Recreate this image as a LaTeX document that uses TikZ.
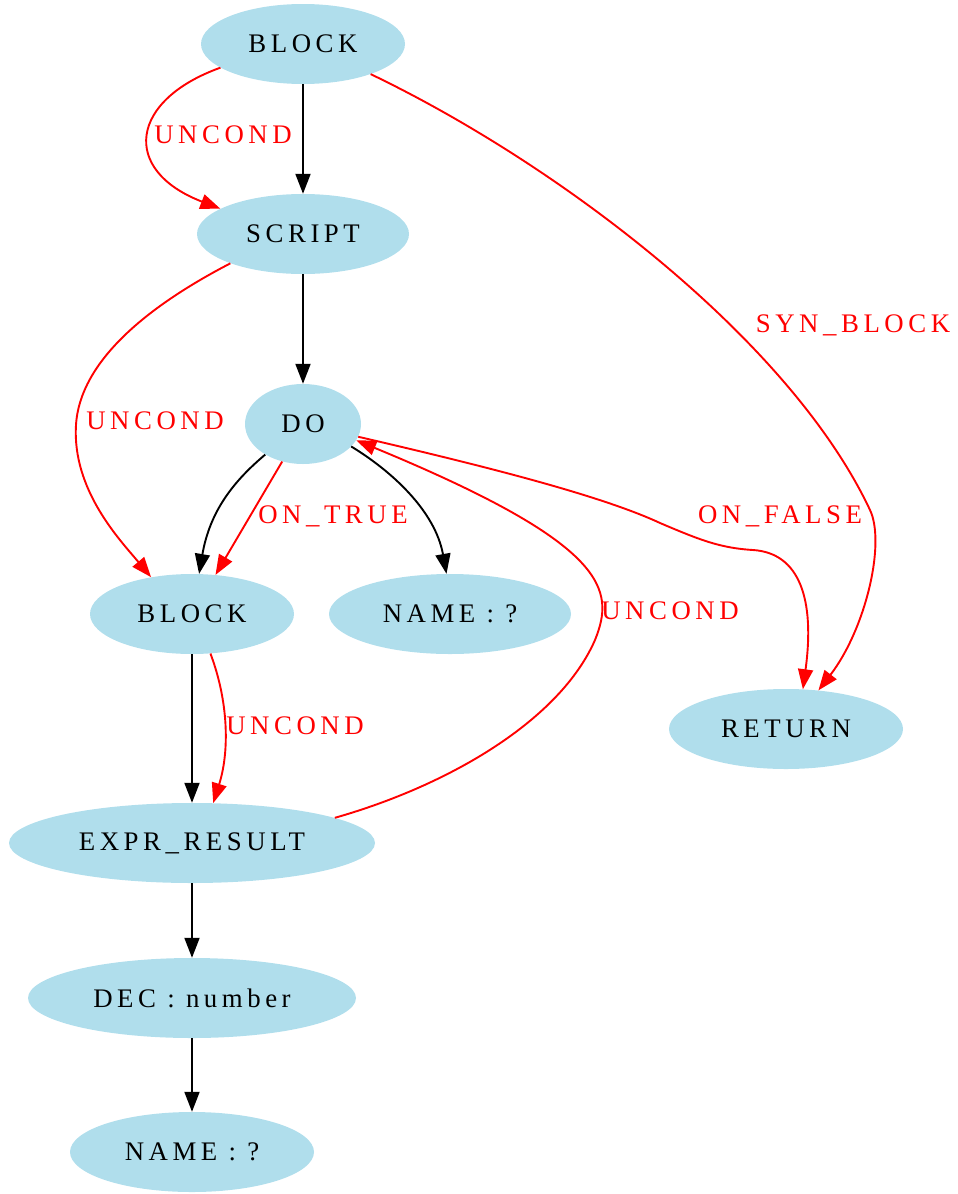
\documentclass[tikz,border=0pt]{standalone}
\usepackage{fontspec}
\setmainfont{Liberation Serif}[LetterSpace=17]
\usetikzlibrary{arrows.meta,shapes.geometric}
\definecolor{nodefill}{HTML}{B0DEEC}
\begin{document}
\begin{tikzpicture}[x=1pt,y=-1pt,
  gnode/.style={ellipse,fill=nodefill,inner sep=0pt,font=\fontsize{26.8}{30}\selectfont},
  blk/.style={draw=black,line width=1.9pt,-{Triangle[length=20pt,width=15pt]}},
  red/.style={draw=red,line width=1.9pt,-{Triangle[length=20pt,width=15pt]}},
  elab/.style={text=red,font=\fontsize{26.8}{30}\selectfont,inner sep=0pt}]
\useasboundingbox (0,0) rectangle (958,1194);
% nodes
\node[gnode,minimum width=204pt,minimum height=80pt] (b1) at (303,44) {BLOCK};
\node[gnode,minimum width=212pt,minimum height=80pt] (scr) at (303,234) {SCRIPT};
\node[gnode,minimum width=116pt,minimum height=80pt] (do) at (303,424) {DO};
\node[gnode,minimum width=204pt,minimum height=80pt] (b2) at (192,614) {BLOCK};
\node[gnode,minimum width=242pt,minimum height=80pt] (nm1) at (450,614) {NAME : ?};
\node[gnode,minimum width=234pt,minimum height=80pt] (ret) at (786,729) {RETURN};
\node[gnode,minimum width=366pt,minimum height=80pt] (er) at (192,843) {EXPR\_RESULT};
\node[gnode,minimum width=328pt,minimum height=80pt] (dec) at (192,998) {DEC : number};
\node[gnode,minimum width=244pt,minimum height=80pt] (nm2) at (192,1152) {NAME : ?};
% edges
\draw[blk] (b1.south) -- (scr.north);
\draw[red] (b1.196) .. controls (130,100) and (120,170) .. (scr.163);
\draw[red] (b1.336.6) .. controls (560,165) and (790,340) .. (870,510)
   .. controls (886,544) and (865,630) .. (ret.50.6);
\draw[blk] (scr.south) -- (do.north);
\draw[red] (scr.202) .. controls (150,305) and (80,360) .. (76,425)
   .. controls (72,490) and (120,540) .. (b2.138);
\draw[blk] (do.219) .. controls (235,480) and (210,510) .. (b2.80);
\draw[red] (do.241.5) -- (b2.59.5);
\draw[blk] (do.335) .. controls (390,470) and (435,510) .. (nm1.95);
\draw[red] (do.347) .. controls (480,465) and (600,495) .. (660,523)
   .. controls (700,540) and (720,548) .. (753,550)
   .. controls (800,553) and (815,600) .. (ret.67.7);
\draw[blk] (b2.south) -- (er.north);
\draw[red] (b2.295) .. controls (228,700) and (230,750) .. (er.62);
\draw[red] (er.10) .. controls (450,785) and (560,720) .. (595,640)
   .. controls (615,590) and (610,545) .. (do.343);
\draw[blk] (er.south) -- (dec.north);
\draw[blk] (dec.south) -- (nm2.north);
% labels
\node[elab] (l1) at (223,135) {UNCOND};
\node[elab] (l2) at (853,325) {SYN\_BLOCK};
\node[elab] (l3) at (155,421) {UNCOND};
\node[elab] (l4) at (333,516) {ON\_TRUE};
\node[elab] (l5) at (780,516) {ON\_FALSE};
\node[elab] (l6) at (670,611) {UNCOND};
\node[elab] (l7) at (295,726) {UNCOND};
\end{tikzpicture}
\end{document}
